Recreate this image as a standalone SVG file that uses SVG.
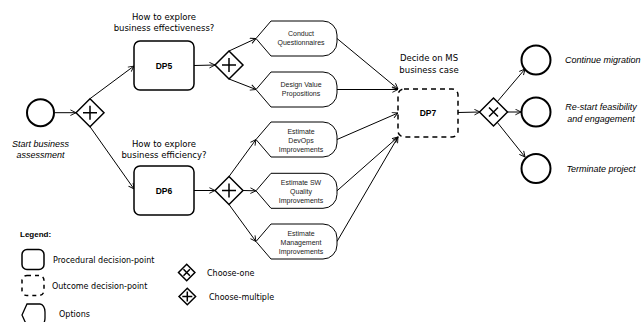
<svg xmlns="http://www.w3.org/2000/svg" xmlns:xlink="http://www.w3.org/1999/xlink" width="642" height="322" viewBox="0 0 642 322">
<style>
.bg{fill:#fff}
.ln{fill:none;stroke:#000;stroke-width:1}
.gw{fill:#fff;stroke:#000;stroke-width:1.5}
.mk{fill:none;stroke:#000;stroke-width:1.5}
.ev{fill:#fff;stroke:#000;stroke-width:2}
.dp{fill:#fff;stroke:#000;stroke-width:1.5}
.dpd{fill:#fff;stroke:#000;stroke-width:1.5;stroke-dasharray:5 4}
.op{fill:#fff;stroke:#000;stroke-width:1}
.q{font-family:"DejaVu Sans",Verdana,sans-serif;font-size:8.5px;fill:#000;text-anchor:middle}
.ot{font-family:"Liberation Sans",Arial,sans-serif;font-size:7px;fill:#222;text-anchor:middle}
.dl{font-family:"Liberation Sans",Arial,sans-serif;font-size:8.5px;font-weight:bold;fill:#000;text-anchor:middle}
.it{font-family:"Liberation Sans",Arial,sans-serif;font-size:9px;font-style:italic;fill:#000;text-anchor:middle}
.lg{font-family:"DejaVu Sans",Verdana,sans-serif;font-size:8px;fill:#000}
.lgb{font-family:"Liberation Sans",Arial,sans-serif;font-size:8px;font-weight:bold;fill:#000}
</style>
<defs>
<marker id="ah" viewBox="0 0 10 10" refX="9" refY="5" markerWidth="7" markerHeight="7" markerUnits="userSpaceOnUse" orient="auto">
<path d="M1,1 L9,5 L1,9" fill="none" stroke="#000" stroke-width="1.3"/>
</marker>
<path id="opt" d="M0,0 L15,-17.5 H67 A14,14 0 0 1 81,-3.5 V3.5 A14,14 0 0 1 67,17.5 H15 Z"/>
<path id="dia" d="M-14,0 L0,-14 L14,0 L0,14 Z"/>
<path id="plus" d="M-7,0 H7 M0,-7 V7"/>
<path id="cross" d="M-4.5,-4.5 L4.5,4.5 M4.5,-4.5 L-4.5,4.5"/>
</defs>
<rect class="bg" x="0" y="0" width="642" height="322"/>

<g id="connectors" class="ln" marker-end="url(#ah)">
<path d="M55,112.7 L76,112.7"/>
<path d="M90,98.7 L134,66"/>
<path d="M90,126.7 L134,189"/>
<path d="M194,65.5 L215,65"/>
<path d="M229,51 L256,38.5"/>
<path d="M229,79 L256,89.5"/>
<path d="M194,190.5 L215,190.5"/>
<path d="M229,176.5 L256,139.5"/>
<path d="M243,190.5 L256,190.8"/>
<path d="M229,204.5 L256,241.5"/>
<path d="M337,38.5 L398,89"/>
<path d="M337,89.5 L398,89.5"/>
<path d="M337,139.5 L398,113"/>
<path d="M337,190.8 L398,137"/>
<path d="M337,241.5 L398,137"/>
<path d="M458,112.5 L480,112"/>
<path d="M497,102 L525,69"/>
<path d="M507,112 L521,112"/>
<path d="M497,122 L525,157"/>
</g>

<g id="start">
<circle class="ev" cx="40.5" cy="112.7" r="13.5"/>
<text class="it" x="40.5" y="147">Start business</text>
<text class="it" x="40.5" y="158">assessment</text>
</g>

<g id="gw1">
<use href="#dia" x="90" y="112.7" class="gw"/>
<use href="#plus" x="90" y="112.7" class="mk"/>
</g>

<g id="dp5">
<text class="q" x="164" y="20">How to explore</text>
<text class="q" x="164" y="31">business effectiveness?</text>
<rect class="dp" x="134" y="41" width="60" height="49" rx="6"/>
<text class="dl" x="164" y="68.5">DP5</text>
</g>

<g id="dp6">
<text class="q" x="164" y="147">How to explore</text>
<text class="q" x="164" y="158">business efficiency?</text>
<rect class="dp" x="134" y="166" width="60" height="49" rx="6"/>
<text class="dl" x="164" y="193.5">DP6</text>
</g>

<g id="gw2">
<use href="#dia" x="229" y="65" class="gw"/>
<use href="#plus" x="229" y="65" class="mk"/>
</g>

<g id="gw4">
<use href="#dia" x="229" y="190.5" class="gw"/>
<use href="#plus" x="229" y="190.5" class="mk"/>
</g>

<g id="opt-conduct">
<use href="#opt" x="256" y="38.5" class="op"/>
<text class="ot" x="301" y="36">Conduct</text>
<text class="ot" x="301" y="45">Questionnaires</text>
</g>
<g id="opt-design">
<use href="#opt" x="256" y="89.5" class="op"/>
<text class="ot" x="301" y="87">Design Value</text>
<text class="ot" x="301" y="96">Propositions</text>
</g>
<g id="opt-devops">
<use href="#opt" x="256" y="139.5" class="op"/>
<text class="ot" x="301" y="134">Estimate</text>
<text class="ot" x="301" y="142.5">DevOps</text>
<text class="ot" x="301" y="151.5">Improvements</text>
</g>
<g id="opt-sw">
<use href="#opt" x="256" y="190.8" class="op"/>
<text class="ot" x="301" y="185">Estimate SW</text>
<text class="ot" x="301" y="194">Quality</text>
<text class="ot" x="301" y="203">Improvements</text>
</g>
<g id="opt-mgmt">
<use href="#opt" x="256" y="241.5" class="op"/>
<text class="ot" x="301" y="235.5">Estimate</text>
<text class="ot" x="301" y="244.5">Management</text>
<text class="ot" x="301" y="253.5">Improvements</text>
</g>

<g id="dp7">
<text class="q" x="429" y="61">Decide on MS</text>
<text class="q" x="429" y="73">business case</text>
<rect class="dpd" x="398" y="89" width="60" height="48" rx="6"/>
<text class="dl" x="428" y="115.5">DP7</text>
</g>

<g id="gw3">
<use href="#dia" x="493.5" y="112" class="gw"/>
<use href="#cross" x="493.5" y="112" class="mk"/>
</g>

<g id="end1">
<circle class="ev" cx="536" cy="60" r="14.5"/>
<text class="it" x="565" y="63" style="text-anchor:start">Continue migration</text>
</g>
<g id="end2">
<circle class="ev" cx="536" cy="112" r="14.5"/>
<text class="it" x="601" y="109.5">Re-start feasibility</text>
<text class="it" x="601" y="121.5">and engagement</text>
</g>
<g id="end3">
<circle class="ev" cx="536" cy="168.5" r="14.5"/>
<text class="it" x="601" y="171.5">Terminate project</text>
</g>

<g id="legend">
<text class="lgb" x="20" y="237">Legend:</text>
<rect class="dp" x="22" y="249.5" width="22" height="20" rx="5"/>
<text class="lg" x="53" y="262.5">Procedural decision-point</text>
<rect class="dpd" x="22" y="275.5" width="22" height="20" rx="5" style="stroke-dasharray:4 4"/>
<text class="lg" x="52" y="289">Outcome decision-point</text>
<path class="op" style="stroke-width:1.3" d="M22,315 L27,304 H40 A5,8 0 0 1 45,312 V318 A5,8 0 0 1 40,326 H27 Z"/>
<text class="lg" x="59" y="317">Options</text>
<path class="gw" d="M178.5,272.5 L186.7,264.3 L194.9,272.5 L186.7,280.7 Z"/>
<path class="mk" d="M183.5,269.3 L189.9,275.7 M189.9,269.3 L183.5,275.7"/>
<text class="lg" x="207" y="275.5">Choose-one</text>
<path class="gw" d="M179,296.5 L187.3,288.2 L195.6,296.5 L187.3,304.8 Z"/>
<path class="mk" d="M182.3,296.5 H192.3 M187.3,291.5 V301.5"/>
<text class="lg" x="209" y="299.5">Choose-multiple</text>
</g>
</svg>
